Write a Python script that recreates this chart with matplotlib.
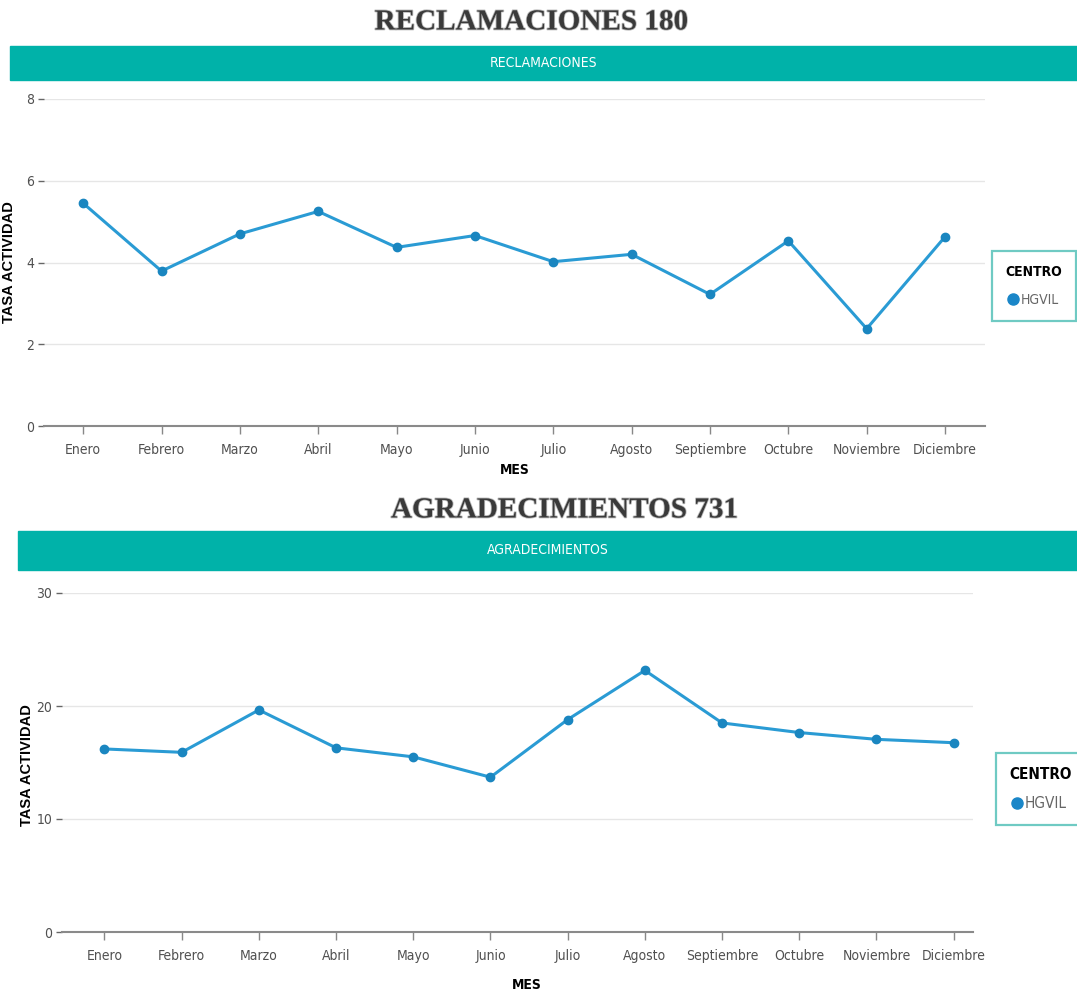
import matplotlib
matplotlib.use('Agg')
import matplotlib.pyplot as plt
import matplotlib.patheffects as pe
from matplotlib.patches import Rectangle
from matplotlib.lines import Line2D

# data
meses = ['Enero', 'Febrero', 'Marzo', 'Abril', 'Mayo', 'Junio', 'Julio',
         'Agosto', 'Septiembre', 'Octubre', 'Noviembre', 'Diciembre']
reclamaciones = [5.45, 3.79, 4.70, 5.25, 4.37, 4.66, 4.02, 4.20, 3.22, 4.53, 2.38, 4.63]
agradecimientos = [16.2, 15.9, 19.65, 16.3, 15.5, 13.7, 18.8, 23.15, 18.5, 17.65, 17.05, 16.75]
centro = 'HGVIL'
total_reclamaciones = 180
total_agradecimientos = 731

NARROW = dict(family='DejaVu Sans', stretch='condensed')
TEAL = '#00b2a9'
LINE = '#2a9bd4'
MARK = '#1a86c0'

W, H = 1077, 998
fig = plt.figure(figsize=(W / 100, H / 100), dpi=100)


def fx(px):
    return px / W


def fy(py):
    return 1 - py / H


def banner(y_top, y_bot, x_left, text):
    fig.patches.append(Rectangle((fx(x_left), fy(y_bot)), 1 - fx(x_left), fy(y_top) - fy(y_bot),
                                 transform=fig.transFigure, color=TEAL, zorder=0))
    fig.text(fx((x_left + W) / 2), fy((y_top + y_bot) / 2), text, color='white',
             fontsize=10, ha='center', va='center', **NARROW)


def big_title(x, y, text):
    t = fig.text(fx(x), fy(y), text, family=['Liberation Serif', 'DejaVu Serif'],
                 fontsize=21, fontweight='bold', color='#3a3a3a', ha='center', va='center')
    t.set_path_effects([pe.withStroke(linewidth=1.2, foreground='#bbbbbb')])


def draw_panel(rect, values, ymax, step, xlim, legend_center, legend_size, xlabel_pos, ylabel_pos):
    ax = fig.add_axes(rect)
    x = list(range(len(meses)))
    ax.plot(x, values, color=LINE, lw=2.2, marker='o', markersize=6,
            markerfacecolor=MARK, markeredgecolor=MARK, zorder=3, clip_on=False)
    ax.set_xlim(*xlim)
    ax.set_ylim(0, ymax)
    ax.set_yticks(range(0, ymax + 1, step))
    ax.set_xticks(x)
    ax.set_xticklabels(meses)
    ax.grid(axis='y', color='#e6e6e6', lw=1)
    ax.set_axisbelow(True)
    for s in ['top', 'right', 'left']:
        ax.spines[s].set_visible(False)
    ax.spines['bottom'].set_color('#8a8a8a')
    ax.spines['bottom'].set_linewidth(1.5)
    ax.tick_params(axis='y', length=4, width=1, color='#666666', pad=3)
    ax.tick_params(axis='x', length=6, width=1, color='#888888', pad=6)
    for lab in ax.get_xticklabels() + ax.get_yticklabels():
        lab.set_family(NARROW['family'])
        lab.set_stretch(NARROW['stretch'])
        lab.set_fontsize(10)
        lab.set_color('#505050')

    fig.text(fx(xlabel_pos[0]), fy(xlabel_pos[1]), 'MES',
             fontsize=10, fontweight='bold', ha='center', va='center', **NARROW)
    fig.text(fx(ylabel_pos[0]), fy(ylabel_pos[1]), 'TASA ACTIVIDAD',
             family=['Liberation Sans', 'DejaVu Sans'], fontsize=10.5,
             fontweight='bold', rotation=90, ha='center', va='center')

    handle = Line2D([], [], linestyle='none', marker='o', markersize=8,
                    markerfacecolor='#1a86c8', markeredgecolor='#1a86c8')
    leg = ax.legend([handle], [centro], title='CENTRO', loc='center',
                    bbox_to_anchor=(fx(legend_center[0]), fy(legend_center[1])),
                    bbox_transform=fig.transFigure, frameon=True, fancybox=False,
                    handletextpad=0.1, handlelength=1.0, borderpad=1.0,
                    labelspacing=0.6, borderaxespad=0)
    leg.get_frame().set_edgecolor('#4bbdb5')
    leg.get_frame().set_linewidth(1.6)
    ttl = leg.get_title()
    ttl.set_family(NARROW['family'])
    ttl.set_stretch(NARROW['stretch'])
    ttl.set_fontweight('bold')
    ttl.set_fontsize(legend_size)
    leg._legend_box.align = 'left'
    leg._legend_box.sep = 10
    for t in leg.get_texts():
        t.set_family(NARROW['family'])
        t.set_stretch(NARROW['stretch'])
        t.set_fontsize(legend_size)
        t.set_color('#666666')
    return ax


# top panel
big_title(531, 22, f'RECLAMACIONES {total_reclamaciones}')
banner(46, 80, 10, 'RECLAMACIONES')
draw_panel([fx(44), fy(426), fx(985) - fx(44), fy(99) - fy(426)],
           reclamaciones, 8, 2, (-0.5, 11.51), (1034, 286), 10, (515, 470), (9, 262))

# bottom panel
big_title(564, 510, f'AGRADECIMIENTOS {total_agradecimientos}')
banner(531, 570, 18, 'AGRADECIMIENTOS')
draw_panel([fx(62), fy(932), fx(973) - fx(62), fy(593) - fy(932)],
           agradecimientos, 30, 10, (-0.55, 11.25), (1041, 789), 11, (527, 985), (27, 765))

fig.savefig('out.png', dpi=100, facecolor='white')
